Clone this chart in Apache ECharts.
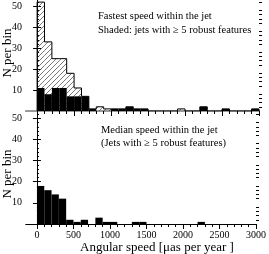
<!DOCTYPE html>
<html><head><meta charset="utf-8">
<script src="https://cdn.jsdelivr.net/npm/echarts@6/dist/echarts.min.js"></script>
<style>html,body{margin:0;padding:0;background:#fff}#c{width:269px;height:254px}</style>
</head><body><div id="c"></div>
<script>
// Histogram bins (left edges, µas/yr), width 100
const binWidth = 100;
const binLefts = [0,100,200,300,400,500,600,700,800,900,1000,1100,1200,1300,1400,1500,1600,1700,1800,1900,2000,2100,2200,2300,2400,2500,2600,2700,2800,2900];
// Top panel: fastest speed, all jets (hatched)
const fastestAll = [52,33,25,25,18,11,7,1,2,1,1,1,2,1,1,0,0,0,0,1,0,0,2,0,0,1,0,0,0,1];
// Top panel: fastest speed, jets with >=5 robust features (black)
const fastestRobust = [11,8,11,11,7,7,7,1,0,0,1,1,2,1,1,0,0,0,0,0,0,0,2,0,0,1,0,0,0,1];
// Bottom panel: median speed (jets with >=5 robust features)
const medianRobust = [18,16,14,12,2,1,2,0,3,1,1,0,0,1,1,0,0,0,0,0,0,0,1,0,0,0,0,0,0,0];
// Tick labels
const xTickLabels = [0,500,1000,1500,2000,2500,3000];
const xMinorTicks = binLefts.concat([3000]);
const yTickLabels = [10,20,30,40,50];
const yMinorTicks = [2,4,6,8,12,14,16,18,22,24,26,28,32,34,36,38,42,44,46,48,52];

const FONT = "'Liberation Serif','DejaVu Serif',serif";

// hatch pattern
const pat = document.createElement('canvas');
pat.width = 5; pat.height = 5;
(function(){
  const g = pat.getContext('2d');
  g.strokeStyle = '#555'; g.lineWidth = 0.8;
  g.beginPath();
  g.moveTo(0,5); g.lineTo(5,0);
  g.moveTo(-1,1); g.lineTo(1,-1);
  g.moveTo(4,6); g.lineTo(6,4);
  g.stroke();
})();

const chart = echarts.init(document.getElementById('c'), null, {renderer:'canvas'});

function rectItem(fill) {
  return function(params, api) {
    const x0 = api.value(0), v = api.value(1);
    if (!v) return null;
    const p1 = api.coord([x0, v]);
    const p2 = api.coord([x0 + binWidth, 0]);
    return {type:'rect', shape:{x:p1[0], y:p1[1], width:p2[0]-p1[0], height:p2[1]-p1[1]}, style:{fill: fill}};
  };
}
function stepPoints(vals) {
  const pts = [[binLefts[0], 0]];
  vals.forEach((v,i) => { pts.push([binLefts[i], v]); pts.push([binLefts[i] + binWidth, v]); });
  pts.push([binLefts[binLefts.length-1] + binWidth, 0]);
  return pts;
}
const plain = v => String(v);

const grids = [
  {left:26, right:10, top:0, height:111},
  {left:26, right:10, top:112, height:112}
];
const xAxes = [], yAxes = [];
const black = {color:'#000', width:1};
grids.forEach((g, gi) => {
  const base = {type:'value', gridIndex:gi, min:-150, max:3000, splitLine:{show:false}};
  xAxes.push(Object.assign({}, base, {position:'bottom', axisLine:{show:true, lineStyle:black},
    axisTick:{show:true, customValues:xTickLabels, length:5, inside:false, lineStyle:black},
    axisLabel:{show: gi===1, customValues:xTickLabels, formatter:plain, fontSize:10, fontFamily:FONT, color:'#000', margin:6}}));
  xAxes.push(Object.assign({}, base, {position:'bottom', axisLine:{show:false},
    axisTick:{show:true, customValues:xMinorTicks, length:3, inside:false, lineStyle:black},
    axisLabel:{show:false}}));
  xAxes.push(Object.assign({}, base, {position:'top', axisLine:{show:true, lineStyle: gi===0 ? {color:'#999', width:2} : black},
    axisTick:{show:false}, axisLabel:{show:false}}));
  const yb = {type:'value', gridIndex:gi, min:0, max:53, splitLine:{show:false}};
  yAxes.push(Object.assign({}, yb, {position:'left', axisLine:{show:true, lineStyle:black},
    axisTick:{show:true, customValues:yTickLabels, length:4, inside:true, lineStyle:black},
    axisLabel:{show:true, customValues:yTickLabels, formatter:plain, fontSize:10, fontFamily:FONT, color:'#000', margin:4}}));
  yAxes.push(Object.assign({}, yb, {position:'left', axisLine:{show:false},
    axisTick:{show:true, customValues:yMinorTicks, length:2, inside:true, lineStyle:black},
    axisLabel:{show:false}}));
  yAxes.push(Object.assign({}, yb, {position:'right', axisLine:{show:true, lineStyle:black},
    axisTick:{show:true, customValues:yTickLabels, length:4, inside:true, lineStyle:black},
    axisLabel:{show:false}}));
  yAxes.push(Object.assign({}, yb, {position:'right', axisLine:{show:false},
    axisTick:{show:true, customValues:yMinorTicks, length:3, inside:false, lineStyle:black},
    axisLabel:{show:false}}));
});

const series = [
  {type:'custom', xAxisIndex:0, yAxisIndex:0, data: binLefts.map((b,i)=>[b, fastestAll[i]]),
   renderItem: rectItem({image: pat, repeat:'repeat'}), z:1, silent:true},
  {type:'custom', xAxisIndex:0, yAxisIndex:0, data: binLefts.map((b,i)=>[b, fastestRobust[i]]),
   renderItem: rectItem('#000'), z:2, silent:true},
  {type:'line', xAxisIndex:0, yAxisIndex:0, data: stepPoints(fastestAll), symbol:'none',
   lineStyle:{color:'#000', width:1}, z:3, silent:true, animation:false},
  {type:'custom', xAxisIndex:3, yAxisIndex:4, data: binLefts.map((b,i)=>[b, medianRobust[i]]),
   renderItem: rectItem('#000'), z:2, silent:true}
];

const txt = (t, x, y, size, align, rot) => ({type:'text', x:x, y:y, rotation: rot||0,
  style:{text:t, fontSize:size, fontFamily:FONT, fill:'#000', align:align||'left', verticalAlign:'middle'}, z:10});

chart.setOption({
  animation:false,
  grid: grids,
  xAxis: xAxes,
  yAxis: yAxes,
  series: series,
  graphic: [
    txt('Fastest speed within the jet', 98, 16, 10.5),
    txt('Shaded: jets with \u2265 5 robust features', 98, 30, 10.5),
    txt('Median speed within the jet', 101, 130, 10.5),
    txt('(Jets with \u2265 5 robust features)', 101, 143, 10.5),
    txt('Angular speed [\u03bcas per year ]', 157, 248, 13, 'center'),
    txt('N per bin', 8, 53, 13, 'center', Math.PI/2),
    txt('N per bin', 8, 174, 13, 'center', Math.PI/2)
  ]
});
</script></body></html>
